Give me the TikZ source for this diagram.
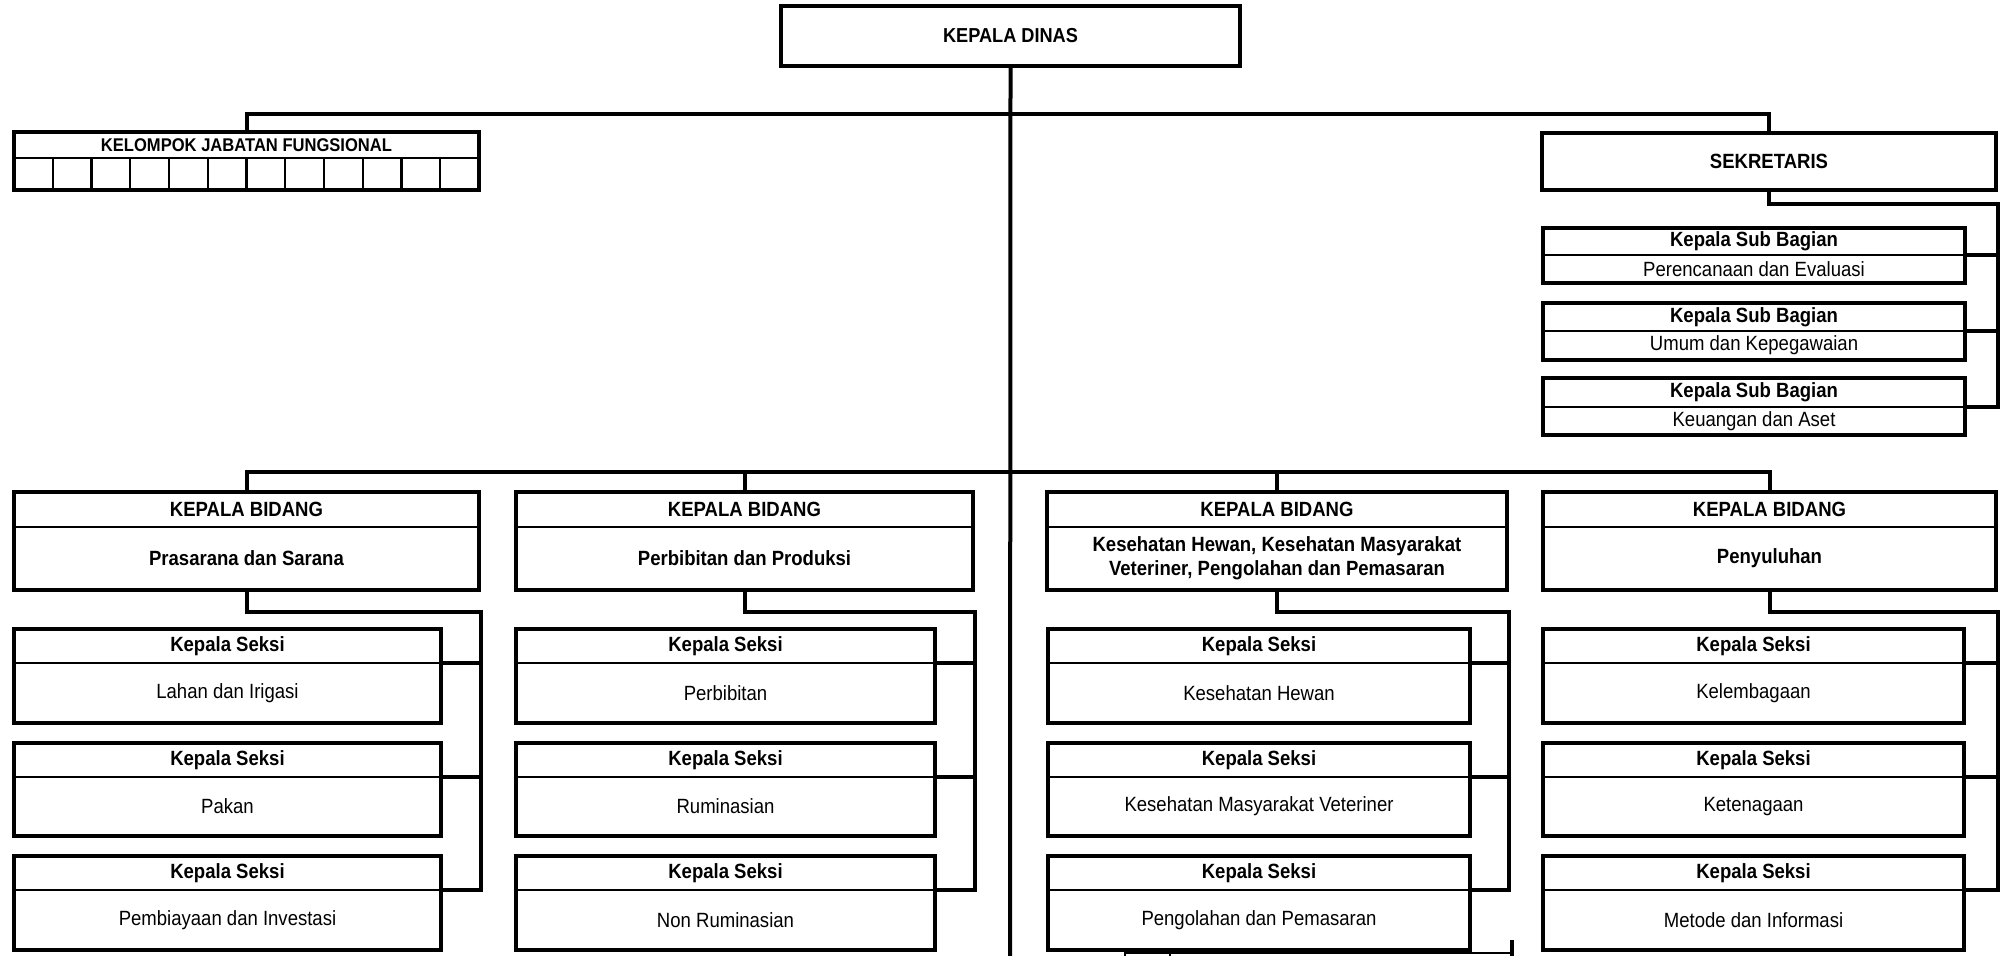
\documentclass[tikz,border=0pt]{standalone}
\usepackage{fontspec}
\setmainfont{Liberation Sans}[FakeStretch=0.9]
\usetikzlibrary{fit,calc}

% box with a title strip and a body strip
% #1 name, #2 x1, #3 y1, #4 x2, #5 y of the dividing rule, #6 y2, #7 title, #8 body style, #9 body
\newcommand\orgbox[9]{%
  \coordinate (#1-nw) at (#2,#3);
  \coordinate (#1-se) at (#4,#6);
  \coordinate (#1-dl) at (#2,#5);
  \coordinate (#1-dr) at (#4,#5);
  \node[orgframe,fit=(#1-nw)(#1-se)] (#1) {};
  \draw[divrule] (#1-dl) -- (#1-dr);
  \node[headlbl] (#1-head) at ($(#1-nw)!0.5!(#1-dr)$) {#7};
  \node[#8] (#1-body) at ($(#1-dl)!0.5!(#1-se)$) {#9};
}

\begin{document}
\begin{tikzpicture}[x=0.5pt,y=-0.5pt,
  orgframe/.style={draw=black,line width=2pt,inner sep=0pt,rectangle},
  divrule/.style={draw=black,line width=1.1pt},
  orgline/.style={draw=black,line width=2pt,line cap=rect},
  plainlbl/.style={inner sep=0pt,align=center,font=\fontsize{10.3}{12}\selectfont},
  headlbl/.style={inner sep=0pt,align=center,font=\fontsize{10.3}{12}\selectfont\bfseries},
]
\useasboundingbox[fill=white] (0,0) rectangle (2000,955);

% ---- head of office ----
\coordinate (kd-nw) at (781,6);
\coordinate (kd-se) at (1240,66);
\node[orgframe,fit=(kd-nw)(kd-se)] (kd) {};
\node[headlbl,font=\fontsize{10.1}{12}\selectfont\bfseries] (kd-text) at (kd) {KEPALA DINAS};

% ---- functional group ----
\coordinate (kjf-nw) at (14,132);
\coordinate (kjf-se) at (479,190);
\coordinate (kjf-sw) at (14,190);
\coordinate (kjf-dl) at (14,158);
\coordinate (kjf-dr) at (479,158);
\node[orgframe,fit=(kjf-nw)(kjf-se)] (kjf) {};
\draw[divrule] (kjf-dl) -- (kjf-dr);
\node[headlbl,font=\fontsize{9.2}{11}\selectfont\bfseries] (kjf-head) at ($(kjf-nw)!0.5!(kjf-dr)$) {KELOMPOK JABATAN FUNGSIONAL};
\foreach \k in {1,...,11}
  \draw[divrule] ($(kjf-dl)!\k/12!(kjf-dr)$) -- ($(kjf-sw)!\k/12!(kjf-se)$);

% ---- secretary ----
\coordinate (sek-nw) at (1542,133);
\coordinate (sek-se) at (1996,190);
\node[orgframe,fit=(sek-nw)(sek-se)] (sek) {};
\node[headlbl] (sek-text) at (sek) {SEKRETARIS};

\orgbox{sb1}{1543}{228}{1965}{255}{283}{Kepala Sub Bagian}{plainlbl}{Perencanaan dan Evaluasi}
\orgbox{sb2}{1543}{303}{1965}{331}{360}{Kepala Sub Bagian}{plainlbl}{Umum dan Kepegawaian}
\orgbox{sb3}{1543}{378}{1965}{407}{435}{Kepala Sub Bagian}{plainlbl}{Keuangan dan Aset}

% ---- divisions ----
\orgbox{bid1}{14}{492}{479}{527}{590}{KEPALA BIDANG}{headlbl}{Prasarana dan Sarana}
\orgbox{bid2}{516}{492}{973}{527}{590}{KEPALA BIDANG}{headlbl}{Perbibitan dan Produksi}
\orgbox{bid3}{1047}{492}{1507}{527}{590}{KEPALA BIDANG}{headlbl}{Kesehatan Hewan, Kesehatan Masyarakat\\Veteriner, Pengolahan dan Pemasaran}
\orgbox{bid4}{1543}{492}{1996}{527}{590}{KEPALA BIDANG}{headlbl}{Penyuluhan}

% ---- sections ----
\orgbox{s11}{14}{629}{441}{663}{723}{Kepala Seksi}{plainlbl}{Lahan dan Irigasi}
\orgbox{s12}{14}{743}{441}{777}{836}{Kepala Seksi}{plainlbl}{Pakan}
\orgbox{s13}{14}{856}{441}{890}{950}{Kepala Seksi}{plainlbl}{Pembiayaan dan Investasi}

\orgbox{s21}{516}{629}{935}{663}{723}{Kepala Seksi}{plainlbl}{Perbibitan}
\orgbox{s22}{516}{743}{935}{777}{836}{Kepala Seksi}{plainlbl}{Ruminasian}
\orgbox{s23}{516}{856}{935}{890}{950}{Kepala Seksi}{plainlbl}{Non Ruminasian}

\orgbox{s31}{1048}{629}{1470}{663}{723}{Kepala Seksi}{plainlbl}{Kesehatan Hewan}
\orgbox{s32}{1048}{743}{1470}{777}{836}{Kepala Seksi}{plainlbl}{Kesehatan Masyarakat Veteriner}
\orgbox{s33}{1048}{856}{1470}{890}{950}{Kepala Seksi}{plainlbl}{Pengolahan dan Pemasaran}

\orgbox{s41}{1543}{629}{1964}{663}{723}{Kepala Seksi}{plainlbl}{Kelembagaan}
\orgbox{s42}{1543}{743}{1964}{777}{836}{Kepala Seksi}{plainlbl}{Ketenagaan}
\orgbox{s43}{1543}{856}{1964}{890}{950}{Kepala Seksi}{plainlbl}{Metode dan Informasi}

% ---- connectors ----
\coordinate (trunkend) at (1010,955);
\coordinate (topbus) at (1010,114);
\coordinate (lowbus) at (1010,472);
\draw[orgline] (kd.south) -- (trunkend);
\draw[orgline] (kjf.north) |- (topbus) -| (sek.north);
\draw[orgline] (bid1.north) |- (lowbus) -| (bid4.north);
\draw[orgline] (bid2.north) |- (lowbus);
\draw[orgline] (bid3.north) |- (lowbus);

% secretary to its sub-sections
\draw[orgline] (sek.south) -- ++(0,12) -| (sek.east |- sb3-dr) -- (sb3-dr);
\draw[orgline] (sb1-dr) -- (sek.east |- sb1-dr);
\draw[orgline] (sb2-dr) -- (sek.east |- sb2-dr);

% each division to its sections
\foreach \c in {1,2,3,4} {
  \draw[orgline] (bid\c.south) -- ++(0,20) -| (bid\c.east |- s\c3-dr) -- (s\c3-dr);
  \draw[orgline] (s\c1-dr) -- (bid\c.east |- s\c1-dr);
  \draw[orgline] (s\c2-dr) -- (bid\c.east |- s\c2-dr);
}

% stray strokes along the lower edge
\draw[orgline,line width=1.4pt] (1125,953) -- (1512,953);
\draw[orgline,line width=1.4pt] (1125,949) -- (1125,955);
\draw[orgline,line width=1.4pt] (1170,949) -- (1170,955);
\draw[orgline,line width=1.6pt] (1512,955) -- (1512,942);
\end{tikzpicture}
\end{document}
